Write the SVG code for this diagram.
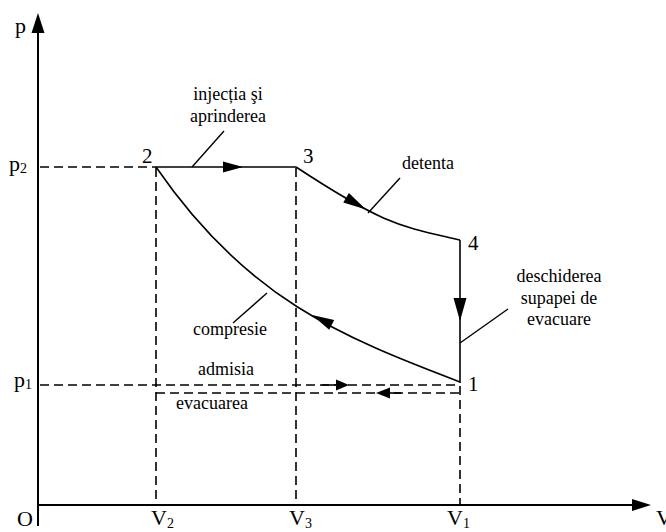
<svg xmlns="http://www.w3.org/2000/svg" width="666" height="532" viewBox="0 0 666 532">
<style>
.ax{stroke:#000;stroke-width:2;fill:none}
.ln{stroke:#000;stroke-width:1.6;fill:none}
.ds{stroke:#000;stroke-width:1.6;fill:none;stroke-dasharray:9 5}
.ld{stroke:#000;stroke-width:1.4;fill:none}
.ah{fill:#000;stroke:none}
text{font-family:"Liberation Serif","Times New Roman",serif;fill:#000}
.lb{font-size:18px;text-anchor:middle}
.pt{font-size:21px}
.al{font-size:22px}
.sb{font-size:14px}
</style>
<rect width="666" height="532" fill="#fff"/>
<g id="axes">
<line class="ax" x1="38" y1="526" x2="38" y2="30"/>
<polygon class="ah" points="38,13 31.5,33 44.5,33"/>
<line class="ax" x1="38" y1="505" x2="634" y2="505"/>
<polygon class="ah" points="651,505 632,499 632,511"/>
<text class="al" x="15" y="33">p</text>
<text class="al" x="17" y="526">O</text>
<text class="al" x="9" y="171">p<tspan class="sb" dy="2">2</tspan></text>
<text class="al" x="14" y="387">p<tspan class="sb" dy="2">1</tspan></text>
<text class="al" x="151" y="525">V<tspan class="sb" dy="3">2</tspan></text>
<text class="al" x="289" y="525">V<tspan class="sb" dy="3">3</tspan></text>
<text class="al" x="447" y="525">V<tspan class="sb" dy="3">1</tspan></text>
<text class="al" x="656" y="525">V</text>
</g>
<g id="guides">
<line class="ds" x1="40" y1="167" x2="156" y2="167"/>
<line class="ds" x1="156" y1="168" x2="156" y2="505"/>
<line class="ds" x1="296" y1="168" x2="296" y2="505"/>
<line class="ds" x1="460" y1="386" x2="460" y2="505"/>
</g>
<g id="connectors">
<g id="inj">
<line class="ln" x1="156" y1="167" x2="296" y2="167"/>
<polygon class="ah" points="243,167 223,161.5 223,172.5"/>
</g>
<g id="det">
<path class="ln" d="M296,167 C386,226 400,226 460,240"/>
<polygon class="ah" points="366,209.5 348.9,193 343.3,202.4"/>
</g>
<g id="desch">
<line class="ln" x1="460" y1="240" x2="460" y2="383"/>
<polygon class="ah" points="460,321 453.5,298 466.5,298"/>
</g>
<g id="comp">
<path class="ln" d="M460,382 C340,336.4 246,298 156,167"/>
<polygon class="ah" points="312,315 334.2,319.9 329.2,329.7"/>
</g>
<g id="adm">
<line class="ds" x1="40" y1="385" x2="460" y2="385"/>
<line class="ln" x1="322" y1="385" x2="337" y2="385"/>
<polygon class="ah" points="349,385 336,379.5 336,390.5"/>
</g>
<g id="evac">
<line class="ds" x1="156" y1="393" x2="460" y2="393"/>
<line class="ln" x1="389" y1="393" x2="401" y2="393"/>
<polygon class="ah" points="376,393 390,387.5 390,398.5"/>
</g>
</g>
<g id="leaders">
<line class="ld" x1="192" y1="167" x2="224" y2="131"/>
<line class="ld" x1="368" y1="213" x2="400" y2="178"/>
<line class="ld" x1="460" y1="343" x2="508" y2="309"/>
<line class="ld" x1="267" y1="293" x2="233" y2="323"/>
</g>
<g id="n2"><text class="pt" x="142" y="163">2</text></g>
<g id="n3"><text class="pt" x="303" y="163">3</text></g>
<g id="n4"><text class="pt" x="468" y="250">4</text></g>
<g id="n1"><text class="pt" x="468" y="391">1</text></g>
<g id="labels" font-family="Liberation Serif, Times New Roman, serif">
<text class="lb" x="228" y="100">injecția şi</text>
<text class="lb" x="228" y="122">aprinderea</text>
<text class="lb" x="428" y="169">detenta</text>
<text class="lb" x="559" y="282">deschiderea</text>
<text class="lb" x="559" y="304">supapei de</text>
<text class="lb" x="559" y="325">evacuare</text>
<text class="lb" x="230" y="335">compresie</text>
<text class="lb" x="226" y="375">admisia</text>
<text class="lb" x="212" y="409">evacuarea</text>
</g>
</svg>
